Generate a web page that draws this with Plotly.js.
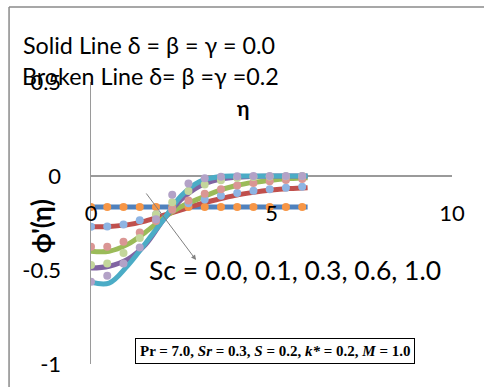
<!DOCTYPE html>
<html>
<head>
<meta charset="utf-8">
<script src="https://cdn.plot.ly/plotly-3.0.1.min.js"></script>
<style>html,body{margin:0;padding:0;background:#fff;overflow:hidden;}#chart{width:484px;height:387px;}</style>
</head>
<body>
<div id="chart"></div>
<script>
// Solid lines: delta = beta = gamma = 0.0
const etaSolid = [0, 0.5, 1, 1.5, 2, 2.5, 3, 3.5, 4, 4.5, 5, 5.5, 6];
const solidSc00 = [-0.165, -0.165, -0.165, -0.165, -0.165, -0.165, -0.165, -0.165, -0.165, -0.165, -0.165, -0.165, -0.165];
const solidSc01 = [-0.27, -0.268, -0.26, -0.24, -0.21, -0.18, -0.15, -0.125, -0.103, -0.087, -0.075, -0.067, -0.062];
const solidSc03 = [-0.40, -0.40, -0.365, -0.30, -0.225, -0.163, -0.12, -0.08, -0.052, -0.034, -0.022, -0.014, -0.009];
const solidSc06 = [-0.49, -0.48, -0.445, -0.367, -0.235, -0.125, -0.055, -0.02, -0.007, -0.002, 0, 0, 0];
const solidSc10 = [-0.565, -0.57, -0.48, -0.36, -0.234, -0.105, -0.03, -0.005, 0, 0, 0, 0, 0];

// Broken lines (markers): delta = beta = gamma = 0.2
const etaBroken = [0, 0.45, 0.9, 1.35, 1.8, 2.25, 2.7, 3.15, 3.6, 4.05, 4.5, 4.95, 5.4, 5.85];
const brokenSc00 = [-0.165, -0.165, -0.165, -0.165, -0.165, -0.165, -0.165, -0.165, -0.165, -0.165, -0.165, -0.165, -0.165, -0.165];
const brokenSc01 = [-0.27, -0.268, -0.258, -0.236, -0.205, -0.175, -0.145, -0.125, -0.105, -0.09, -0.078, -0.07, -0.063, -0.057];
const brokenSc03 = [-0.376, -0.376, -0.35, -0.30, -0.24, -0.18, -0.13, -0.095, -0.07, -0.05, -0.037, -0.028, -0.021, -0.016];
const brokenSc06 = [-0.473, -0.465, -0.41, -0.33, -0.205, -0.14, -0.08, -0.045, -0.022, -0.01, -0.005, -0.002, -0.001, 0];
const brokenSc10 = [-0.562, -0.53, -0.465, -0.38, -0.23, -0.10, -0.04, -0.012, -0.004, -0.001, 0, 0, 0, 0];

const yTickVals = [-1, -0.5, 0, 0.5];
const yTickText = ['-1', '-0.5', '0', '0.5'];
const xTickVals = [0, 5, 10];
const xTickText = ['0', '5', '10'];

const solidColors = ['#4F81BD', '#C0504D', '#9BBB59', '#8064A2', '#4BACC6'];
const brokenColors = ['#F79646', '#8EB4E3', '#DA9694', '#C3D69B', '#B3A2C7'];
const solidSets = [solidSc00, solidSc01, solidSc03, solidSc06, solidSc10];
const brokenSets = [brokenSc00, brokenSc01, brokenSc03, brokenSc06, brokenSc10];
const scNames = ['Sc = 0.0', 'Sc = 0.1', 'Sc = 0.3', 'Sc = 0.6', 'Sc = 1.0'];

const traces = [];
solidSets.forEach((ys, i) => {
  traces.push({x: etaSolid, y: ys, type: 'scatter', mode: 'lines', name: scNames[i] + ' (solid)',
    line: {color: solidColors[i], width: 5, shape: 'spline', smoothing: 1}, hoverinfo: 'x+y'});
});
brokenSets.forEach((ys, i) => {
  traces.push({x: etaBroken, y: ys, type: 'scatter', mode: 'markers', name: scNames[i] + ' (broken)',
    marker: {color: brokenColors[i], size: 8, line: {width: 0}}, hoverinfo: 'x+y'});
});

const font = 'Lato, "Open Sans", sans-serif';
const frameColor = '#8a8a8a';
const layout = {
  width: 484, height: 387,
  margin: {l: 91, r: 32, t: 82, b: 23, pad: 0},
  paper_bgcolor: '#ffffff', plot_bgcolor: '#ffffff',
  showlegend: false,
  font: {family: font, color: '#000000', size: 20},
  xaxis: {
    range: [0, 10], tickvals: xTickVals, ticktext: xTickText,
    showgrid: false, zeroline: false, showline: false, ticks: '',
    anchor: 'free', position: 0.59,
    tickfont: {family: font, size: 22, color: '#000'}
  },
  yaxis: {
    range: [-1, 0.5], tickvals: yTickVals, ticktext: yTickText,
    showgrid: false, zeroline: true, zerolinecolor: '#9a9a9a', zerolinewidth: 1.5,
    showline: true, linecolor: '#9a9a9a', linewidth: 1.5, ticks: '',
    ticklabelstandoff: 24,
    tickfont: {family: font, size: 22, color: '#000'}
  },
  shapes: [
    {type: 'line', xref: 'paper', yref: 'paper', x0: -0.227, x1: 1.3, y0: 1.266, y1: 1.266,
     line: {color: frameColor, width: 1.5}, layer: 'below'},
    {type: 'line', xref: 'paper', yref: 'paper', x0: -0.227, x1: -0.227, y0: -0.3, y1: 1.266,
     line: {color: frameColor, width: 1.5}, layer: 'below'},
    {type: 'rect', xref: 'paper', yref: 'paper', x0: 1.05, x1: 1.3, y0: -0.3, y1: 1.24,
     line: {width: 0}, fillcolor: '#ffffff', layer: 'above'}
  ],
  annotations: [
    {xref: 'paper', yref: 'paper', x: -0.194, y: 1.131, xanchor: 'left', yanchor: 'middle', showarrow: false,
     text: 'Solid Line \u03b4 = \u03b2 = \u03b3 = 0.0', font: {family: font, size: 23.3, color: '#000'}},
    {xref: 'paper', yref: 'paper', x: -0.197, y: 1.021, xanchor: 'left', yanchor: 'middle', showarrow: false,
     text: 'Broken Line \u03b4= \u03b2 =\u03b3 =0.2', font: {family: font, size: 23.3, color: '#000'}},
    {xref: 'paper', yref: 'paper', x: 0.421, y: 0.911, xanchor: 'center', yanchor: 'middle', showarrow: false,
     text: '<b>\u03b7</b>', font: {family: font, size: 21, color: '#000'}},
    {xref: 'paper', yref: 'paper', x: -0.14, y: 0.49, xanchor: 'center', yanchor: 'middle', showarrow: false,
     textangle: -90, text: '<b>\u03d5\'(\u03b7)</b>', font: {family: font, size: 26, color: '#000'}},
    {xref: 'x', yref: 'y', x: 1.55, y: -0.5, xanchor: 'left', yanchor: 'middle', showarrow: false,
     text: 'Sc = 0.0, 0.1, 0.3, 0.6, 1.0', font: {family: font, size: 26.5, color: '#000'}},
    {xref: 'x', yref: 'y', x: 2.91, y: -0.447, axref: 'x', ayref: 'y', ax: 1.5, ay: -0.085,
     showarrow: true, arrowhead: 2, arrowsize: 1, arrowwidth: 1, arrowcolor: '#808080', text: ''},
    {xref: 'x', yref: 'y', x: 5.1, y: -0.93, xanchor: 'center', yanchor: 'middle', showarrow: false,
     text: '<b>Pr = 7.0, <i>Sr</i> = 0.3, <i>S</i> = 0.2, <i>k*</i> = 0.2, <i>M</i> = 1.0</b>',
     font: {family: '"Liberation Serif", "Times New Roman", serif', size: 15, color: '#000'},
     bordercolor: '#000', borderwidth: 1, borderpad: 4, bgcolor: '#fff'}
  ]
};

Plotly.newPlot('chart', traces, layout, {staticPlot: true, displayModeBar: false});
</script>
</body>
</html>
